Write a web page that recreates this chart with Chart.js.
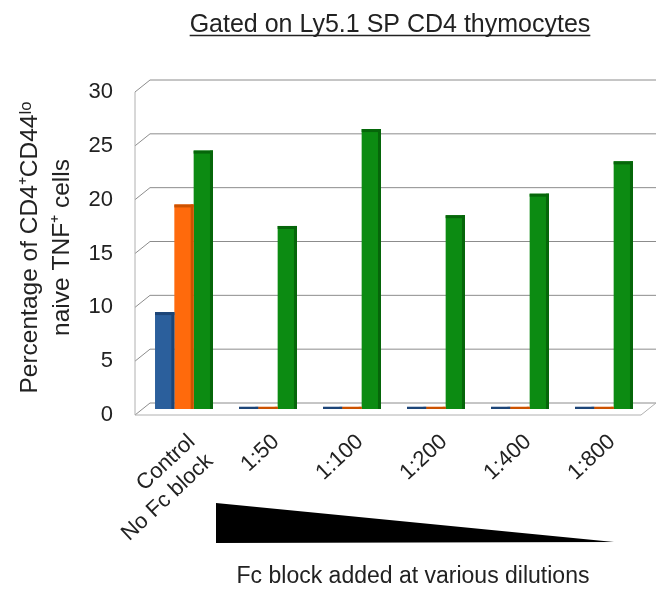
<!DOCTYPE html>
<html>
<head>
<meta charset="utf-8">
<script src="https://cdn.jsdelivr.net/npm/chart.js@4.4.1/dist/chart.umd.min.js"></script>
<style>
  html, body { margin: 0; padding: 0; background: #fff; }
</style>
</head>
<body>
<canvas id="grafico" width="658" height="589"></canvas>
<script>
// datos
const categorias = [["Control", "No Fc block"], "1:50", "1:100", "1:200", "1:400", "1:800"];
const serieAzul = [9, 0.2, 0.2, 0.2, 0.2, 0.2];
const serieNaranja = [19, 0.2, 0.2, 0.2, 0.2, 0.2];
const serieVerde = [24, 17, 26, 18, 20, 23];
const ticksY = [0, 5, 10, 15, 20, 25, 30];

const titulo = "Gated on Ly5.1 SP CD4 thymocytes";
const tituloX = "Fc block added at various dilutions";
const tituloY = ["Percentage of CD4\u207ACD44\u02E1\u1D52", "naive TNF\u207A cells"];

const colores = ["#2b5f9c", "#ff6a0c", "#0c8b12"];
const oscuros = ["#1d4577", "#cc5200", "#06660a"];
const fuente = "'Liberation Sans', Arial, sans-serif";
const texto = "#222";

// profundidad del efecto 3D (frente / fondo respecto al plano de las barras)
const FRENTE = { dx: -7, dy: 6 };
const FONDO = { dx: 8, dy: -6 };

const fondo3d = {
    id: "fondo3d",
    beforeDatasetsDraw(chart) {
        const ctx = chart.ctx;
        const y = chart.scales.y;
        const { left, right } = chart.chartArea;
        ctx.save();
        ctx.strokeStyle = "#8c8c8c";
        ctx.lineWidth = 1;
        ticksY.forEach((v) => {
            const py = y.getPixelForValue(v);
            ctx.beginPath();
            ctx.moveTo(left + FRENTE.dx, py + FRENTE.dy);
            ctx.lineTo(left + FONDO.dx, py + FONDO.dy);
            ctx.lineTo(right + 10, py + FONDO.dy);
            ctx.stroke();
        });
        // pared izquierda y piso
        const p0 = y.getPixelForValue(0), p30 = y.getPixelForValue(30);
        ctx.strokeStyle = "#b0b0b0";
        ctx.beginPath();
        ctx.moveTo(left + FRENTE.dx, p30 + FRENTE.dy);
        ctx.lineTo(left + FRENTE.dx, p0 + FRENTE.dy);
        ctx.lineTo(right - 5, p0 + FRENTE.dy);
        ctx.lineTo(right + 10, p0 + FONDO.dy);
        ctx.stroke();
        ctx.restore();
    },
    afterDatasetsDraw(chart) {
        const ctx = chart.ctx;
        ctx.save();
        chart.data.datasets.forEach((ds, i) => {
            chart.getDatasetMeta(i).data.forEach((bar) => {
                const { x, y, base, width } = bar.getProps(["x", "y", "base", "width"], true);
                const der = x + width / 2, izq = x - width / 2;
                ctx.fillStyle = oscuros[i];
                ctx.fillRect(der - 3, y, 3, base - y);       // cara lateral
                ctx.fillRect(izq, y, width, Math.min(3, base - y)); // tapa
            });
        });
        ctx.restore();
    },
    afterDraw(chart) {
        const ctx = chart.ctx;
        const { left, right } = chart.chartArea;
        ctx.save();
        ctx.fillStyle = texto;
        ctx.strokeStyle = texto;

        // titulo subrayado
        ctx.font = "25px " + fuente;
        ctx.textAlign = "center";
        ctx.textBaseline = "alphabetic";
        const cx = 390;
        ctx.fillText(titulo, cx, 32);
        const w = ctx.measureText(titulo).width;
        ctx.lineWidth = 1.5;
        ctx.beginPath();
        ctx.moveTo(cx - w / 2, 35.5);
        ctx.lineTo(cx + w / 2, 35.5);
        ctx.stroke();

        // cuña negra (dilucion decreciente)
        ctx.fillStyle = "#000";
        ctx.beginPath();
        ctx.moveTo(left + 74, 503);
        ctx.lineTo(left + 74, 543);
        ctx.lineTo(right - 32, 542);
        ctx.closePath();
        ctx.fill();

        // titulo eje x
        ctx.fillStyle = texto;
        ctx.font = "23px " + fuente;
        ctx.textBaseline = "middle";
        ctx.fillText(tituloX, 413, 577);
        ctx.restore();
    }
};

const config = {
    type: "bar",
    data: {
        labels: categorias,
        datasets: [
            { label: "Azul", data: serieAzul, backgroundColor: colores[0] },
            { label: "Naranja", data: serieNaranja, backgroundColor: colores[1] },
            { label: "Verde", data: serieVerde, backgroundColor: colores[2] }
        ]
    },
    options: {
        responsive: false,
        animation: false,
        layout: { padding: { top: 86, right: 12, left: 0, bottom: 0 } },
        datasets: { bar: { barPercentage: 1.0, categoryPercentage: 0.69 } },
        plugins: {
            legend: { display: false },
            tooltip: { enabled: false },
            title: { display: false }
        },
        scales: {
            x: {
                grid: { display: false, drawTicks: false },
                border: { display: false },
                ticks: {
                    autoSkip: false,
                    minRotation: 43, maxRotation: 43,
                    padding: 20,
                    labelOffset: 8,
                    color: texto,
                    font: { family: fuente, size: 22 }
                },
                afterFit: (s) => { s.height = 180; }
            },
            y: {
                min: 0, max: 30,
                grid: { display: false, drawTicks: false },
                border: { display: false },
                ticks: {
                    stepSize: 5,
                    padding: 29,
                    labelOffset: 6,
                    color: texto,
                    font: { family: fuente, size: 22 }
                },
                title: {
                    display: true,
                    text: tituloY,
                    color: texto,
                    padding: { top: 15, bottom: 0 },
                    font: { family: fuente, size: 24.5, lineHeight: 1.28 }
                },
                afterFit: (s) => { s.width = 142; }
            }
        }
    },
    plugins: [fondo3d]
};

const grafico = new Chart(document.getElementById("grafico"), config);
</script>
</body>
</html>
